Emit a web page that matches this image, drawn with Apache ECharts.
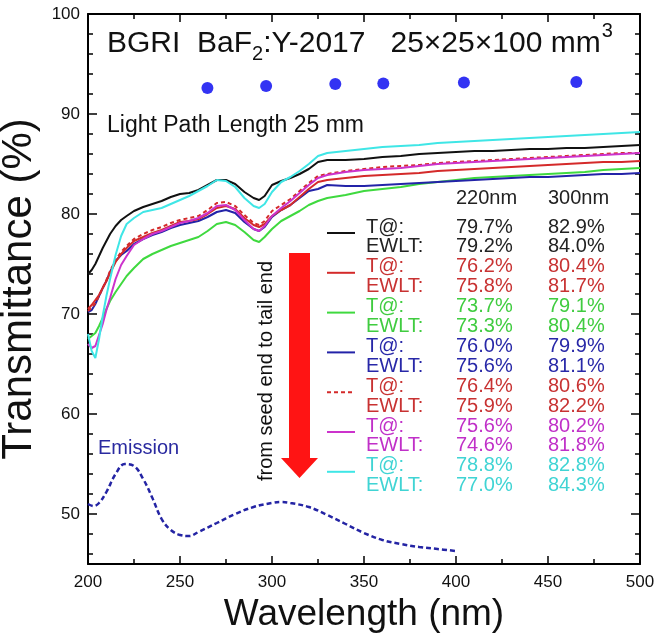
<!DOCTYPE html>
<html><head><meta charset="utf-8">
<script src="https://cdn.jsdelivr.net/npm/echarts@6/dist/echarts.min.js"></script>
<style>html,body{margin:0;padding:0;background:#fff}#c{width:655px;height:640px}</style>
</head><body><div id="c"></div>
<script>
// ---------- data ----------
const wavelengths = [200,202,204,206,208,210,212,215,218,221,225,230,235,240,245,250,255,260,265,270,275,280,285,290,293,296,300,305,310,315,320,325,330,340,350,360,370,380,390,400,410,420,430,440,450,460,470,480,490,500];
const tBlack   = [74.0,74.4,75.0,75.8,76.6,77.3,78.0,78.8,79.4,79.8,80.3,80.7,81.0,81.3,81.7,82.0,82.1,82.4,82.9,83.4,83.4,83.0,82.2,81.6,81.4,81.8,82.9,83.3,83.6,84.0,84.5,85.2,85.4,85.4,85.5,85.7,85.8,86.0,86.1,86.2,86.3,86.3,86.4,86.5,86.5,86.6,86.6,86.7,86.8,86.9];
const tRed     = [70.5,70.9,71.4,71.9,72.6,73.3,74.1,75.2,76.0,76.6,77.3,77.7,78.1,78.4,78.8,79.2,79.3,79.5,80.0,80.6,80.8,80.5,79.6,78.9,78.7,79.0,79.8,80.4,80.9,81.7,82.5,83.2,83.4,83.6,83.8,83.9,84.0,84.1,84.3,84.4,84.5,84.6,84.7,84.8,84.9,85.0,85.1,85.2,85.2,85.3];
const tGreen   = [67.5,67.8,68.1,68.8,69.6,70.5,71.3,72.2,73.0,73.8,74.6,75.5,76.0,76.4,76.8,77.1,77.4,77.7,78.3,79.0,79.2,78.9,78.2,77.4,77.2,77.7,78.5,79.3,79.8,80.3,80.9,81.3,81.6,81.9,82.3,82.5,82.7,83.0,83.2,83.4,83.6,83.7,83.8,83.9,84.0,84.1,84.2,84.4,84.5,84.6];
const tBlue    = [70.2,70.4,71.0,71.8,72.6,73.3,74.2,75.3,75.9,76.3,77.0,77.5,77.9,78.2,78.6,78.9,79.1,79.3,79.7,80.2,80.4,80.1,79.2,78.5,78.3,78.7,79.7,80.4,80.9,81.6,82.3,82.5,82.9,82.8,82.8,82.9,83.0,83.1,83.2,83.3,83.4,83.5,83.6,83.7,83.7,83.8,83.9,84.0,84.0,84.1];
const tRedDash = [70.3,70.6,71.1,71.8,72.6,73.4,74.3,75.4,76.2,76.8,77.5,78.0,78.4,78.7,79.1,79.4,79.6,79.8,80.4,81.1,81.2,80.8,79.9,79.1,78.9,79.3,80.3,80.9,81.5,82.3,83.1,83.8,84.0,84.3,84.5,84.7,84.8,84.9,85.1,85.2,85.3,85.4,85.5,85.6,85.7,85.8,85.9,86.0,86.1,86.1];
const tMagenta = [67.0,66.6,66.8,67.9,69.0,70.4,71.6,73.5,74.9,75.8,76.9,77.5,78.0,78.3,78.7,79.1,79.3,79.6,80.1,80.8,80.9,80.4,79.4,78.5,78.3,78.8,79.8,80.6,81.3,82.1,82.9,83.6,83.9,84.2,84.4,84.5,84.6,84.8,85.0,85.1,85.2,85.3,85.4,85.5,85.6,85.7,85.8,85.9,86.0,86.1];
const tCyan    = [68.0,66.3,65.6,67.5,69.8,71.8,73.5,75.9,77.8,79.0,79.6,80.2,80.4,80.6,81.0,81.4,81.8,82.3,82.8,83.4,83.3,82.7,81.6,80.8,80.6,81.0,82.2,83.2,83.7,84.3,85.0,85.8,86.1,86.3,86.5,86.7,86.8,86.9,87.1,87.2,87.3,87.4,87.5,87.6,87.7,87.8,87.9,88.0,88.1,88.2];

const emissionWl  = [200,203,206,210,215,220,225,230,235,240,245,250,255,260,270,280,290,300,305,310,320,330,340,350,360,370,380,390,400];
const emissionVal = [51.0,50.8,51.1,52.2,54.0,55.0,54.8,53.5,51.6,49.5,48.4,47.9,47.8,48.2,49.1,50.0,50.7,51.1,51.2,51.1,50.7,49.9,49.0,48.1,47.4,47.0,46.7,46.5,46.3];

const dotWl  = [264.9,296.8,334.4,360.5,404.3,465.4];
const dotVal = [92.6,92.8,93.0,93.05,93.15,93.2];

const tableHeader = ['220nm','300nm'];
const t220    = ['79.7%','76.2%','73.7%','76.0%','76.4%','75.6%','78.8%'];
const ewlt220 = ['79.2%','75.8%','73.3%','75.6%','75.9%','74.6%','77.0%'];
const t300    = ['82.9%','80.4%','79.1%','79.9%','80.6%','80.2%','82.8%'];
const ewlt300 = ['84.0%','81.7%','80.4%','81.1%','82.2%','81.8%','84.3%'];

// ---------- styles ----------
const FONT = '"Liberation Sans", Arial, Helvetica, sans-serif';
const lineColors = ['#111111','#d42a2a','#3fd93f','#2323a8','#d42a2a','#cc33cc','#3fe6e6'];
const lineTypes  = ['solid','solid','solid','solid',[4,3],'solid','solid'];
const textColors = ['#222222','#c83232','#40cc40','#2828a8','#c83232','#c030c8','#40d4d4'];
const seriesVals = [tBlack,tRed,tGreen,tBlue,tRedDash,tMagenta,tCyan];

function zip(xs, ys){ return xs.map((x,i)=>[x,ys[i]]); }

const series = [];
const drawOrder = [2,3,1,4,5,0,6];
drawOrder.forEach(k=>{
  series.push({type:'line', xAxisIndex:0, yAxisIndex:0, data: zip(wavelengths, seriesVals[k]),
    showSymbol:false, symbol:'none', smooth:false,
    lineStyle:{color:lineColors[k], width:2, type:lineTypes[k]}, z:3});
});
series.push({type:'line', xAxisIndex:0, yAxisIndex:0, data: zip(emissionWl, emissionVal),
  showSymbol:false, symbol:'none', smooth:0.4,
  lineStyle:{color:'#2424a4', width:2.5, type:[5,3]}, z:3});
series.push({type:'scatter', xAxisIndex:0, yAxisIndex:0, data: zip(dotWl, dotVal),
  symbol:'circle', symbolSize:12, itemStyle:{color:'#0000f0'}, z:4});

// ---------- text annotations ----------
const mctx = document.createElement('canvas').getContext('2d');
function tw(text, size){ mctx.font = size+'px '+FONT; return mctx.measureText(text).width; }
function txt(x, y, text, size, color, align, extra){
  return Object.assign({type:'text', x:x, y:y, z:10, silent:true,
    style:{text:text, fontSize:size, fontFamily:FONT, fill:color,
      textAlign:align||'left', textVerticalAlign:'middle', align:align||'left', verticalAlign:'middle'}}, extra||{});
}
const graphics = [];
// title
const TS = 30, tx0 = 107, ty = 44;
const p1 = 'BGRI  BaF', p2 = '2', p3 = ':Y-2017   25\u00d725\u00d7100 mm', p4 = '3';
let cx = tx0;
graphics.push(txt(cx, ty, p1, TS, '#111'));
cx += tw(p1, TS);
graphics.push(txt(cx, ty+10, p2, 20, '#111'));
cx += tw(p2, 20);
graphics.push(txt(cx, ty, p3, TS, '#111'));
cx += tw(p3, TS) + 1;
graphics.push(txt(cx, ty-13, p4, 20, '#111'));
graphics.push(txt(107, 126, 'Light Path Length 25 mm', 23, '#111'));
// table
const TF = 20, rowY0 = 227, rowH = 19.9, col1 = 456, col2 = 548, labX = 366;
graphics.push(txt(col1, 198, tableHeader[0], TF, '#222'));
graphics.push(txt(col2, 198, tableHeader[1], TF, '#222'));
for (let k=0;k<7;k++){
  const y1 = rowY0 + 2*k*rowH, y2 = y1 + rowH;
  graphics.push(txt(labX, y1, 'T@:', TF, textColors[k]));
  graphics.push(txt(labX, y2, 'EWLT:', TF, textColors[k]));
  graphics.push(txt(col1, y1, t220[k], TF, textColors[k]));
  graphics.push(txt(col1, y2, ewlt220[k], TF, textColors[k]));
  graphics.push(txt(col2, y1, t300[k], TF, textColors[k]));
  graphics.push(txt(col2, y2, ewlt300[k], TF, textColors[k]));
  graphics.push({type:'line', z:10, silent:true, shape:{x1:327, y1:y1+6, x2:355, y2:y1+6},
    style:{stroke:lineColors[k], lineWidth:2, lineDash: Array.isArray(lineTypes[k]) ? lineTypes[k] : null}});
}
// arrow
graphics.push({type:'polygon', z:9, silent:true,
  shape:{points:[[289,253],[310,253],[310,458],[318,458],[299.5,478],[281,458],[289,458]]},
  style:{fill:'#ff1414'}});
graphics.push(txt(266, 371, 'from seed end to tail end', 20, '#111', 'center', {rotation: Math.PI/2}));
graphics.push(txt(98, 448, 'Emission', 20, '#2a2aa0'));

// ---------- chart ----------
const chart = echarts.init(document.getElementById('c'), null, {renderer:'canvas'});
const axisLine = {show:true, lineStyle:{color:'#000', width:2}};
const labelStyle = {color:'#111', fontSize:17, fontFamily:FONT};
chart.setOption({
  animation:false,
  backgroundColor:'#fff',
  grid:[
    {left:88, right:15, top:14, bottom:76, containLabel:false, outerBoundsMode:'none'},
    {left:88, right:15, top:14, bottom:86, containLabel:false, outerBoundsMode:'none'}
  ],
  xAxis:[
    {type:'value', gridIndex:0, position:'bottom', min:200, max:500, interval:50,
      axisLine:axisLine, axisTick:{show:true, inside:true, length:8, lineStyle:{color:'#000', width:1.5}},
      minorTick:{show:true, splitNumber:2, length:5, lineStyle:{color:'#000', width:1.5}},
      axisLabel:Object.assign({margin:10}, labelStyle), splitLine:{show:false},
      name:'Wavelength (nm)', nameLocation:'middle', nameGap:29,
      nameTextStyle:{fontSize:37, color:'#111', fontFamily:FONT}},
    {type:'value', gridIndex:0, position:'top', min:200, max:500, interval:50,
      axisLine:axisLine, axisTick:{show:true, inside:true, length:8, lineStyle:{color:'#000', width:1.5}},
      minorTick:{show:true, splitNumber:2, length:5, lineStyle:{color:'#000', width:1.5}},
      axisLabel:{show:false}, splitLine:{show:false}},
    {type:'value', gridIndex:1, min:200, max:500, show:false}
  ],
  yAxis:[
    {type:'value', gridIndex:0, position:'left', min:45, max:100, minInterval:10, maxInterval:10,
      axisLine:axisLine, axisTick:{show:true, inside:true, length:9, lineStyle:{color:'#000', width:1.5}},
      axisLabel:Object.assign({margin:8, showMinLabel:false, formatter:v=> (v%10===0? String(v):'')}, labelStyle),
      splitLine:{show:false},
      name:'Transmittance (%)', nameLocation:'middle', nameGap:28,
      nameTextStyle:{fontSize:42, color:'#111', fontFamily:FONT}},
    {type:'value', gridIndex:0, position:'right', min:45, max:100, minInterval:10, maxInterval:10,
      axisLine:axisLine, axisTick:{show:true, inside:true, length:9, lineStyle:{color:'#000', width:1.5}},
      axisLabel:{show:false}, splitLine:{show:false}},
    {type:'value', gridIndex:1, position:'left', min:46, max:100, interval:2,
      axisLine:{show:false}, axisTick:{show:true, inside:true, length:5, lineStyle:{color:'#000', width:1.5}},
      axisLabel:{show:false}, splitLine:{show:false}},
    {type:'value', gridIndex:1, position:'right', min:46, max:100, interval:2,
      axisLine:{show:false}, axisTick:{show:true, inside:true, length:5, lineStyle:{color:'#000', width:1.5}},
      axisLabel:{show:false}, splitLine:{show:false}}
  ],
  series: series,
  graphic: graphics
});
</script></body></html>
